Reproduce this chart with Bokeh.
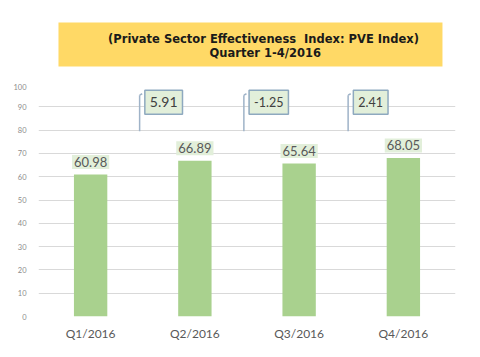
from bokeh.plotting import figure
from bokeh.layouts import column
from bokeh.models import FactorRange, Range1d, ColumnDataSource, FixedTicker
from bokeh.transform import dodge
from bokeh.core.properties import value
from bokeh.embed import file_html
from bokeh.resources import INLINE

categories = ["Q1/2016", "Q2/2016", "Q3/2016", "Q4/2016"]
pve_index = [60.98, 66.89, 65.64, 68.05]
change_quarters = ["Q2/2016", "Q3/2016", "Q4/2016"]
change_values = [5.91, -1.25, 2.41]
y_ticks = [0, 10, 20, 30, 40, 50, 60, 70, 80, 90, 100]
title_lines = ["(Private Sector Effectiveness\u00a0 Index: PVE Index)",
               "Quarter 1-4/2016"]

bar_src = ColumnDataSource(dict(
    cat=categories, val=pve_index,
    label=["%.2f" % v for v in pve_index]))
chg_src = ColumnDataSource(dict(
    cat=change_quarters, val=change_values,
    label=["%.2f" % v for v in change_values],
    fsize=["14px", "12.5px", "12.5px"]))

# ---- title banner (separate strip, pixel coordinates) ----
hdr = figure(width=480, height=83, x_range=Range1d(0, 480),
             y_range=Range1d(83, 0), output_backend="svg",
             toolbar_location=None, min_border=0)
hdr.axis.visible = False
hdr.grid.grid_line_color = None
hdr.outline_line_color = None
hdr.quad(left=23, right=465, top=22, bottom=66,
         fill_color="#ffd966", line_color=None)
hdr.text(x=[259, 261], y=[38, 52], text=title_lines,
         text_align="center", text_baseline="middle",
         text_font=value("DejaVu Sans"), text_font_style="bold",
         text_font_size="11.5px", text_color="#1a1a1a")

# ---- main chart ----
p = figure(width=480, height=274,
           x_range=FactorRange(*categories), y_range=Range1d(0, 100),
           output_backend="svg", toolbar_location=None,
           min_border_left=38, min_border_right=25,
           min_border_top=0, min_border_bottom=41)
p.outline_line_color = None

p.yaxis.ticker = FixedTicker(ticks=y_ticks)
p.yaxis.axis_line_color = None
p.yaxis.major_tick_line_color = None
p.yaxis.minor_tick_line_color = None
p.yaxis.major_label_text_font_size = "7.5px"
p.yaxis.major_label_text_color = "#8c8c8c"
p.yaxis.major_label_text_font = "Lato"
p.yaxis.major_label_standoff = 6

p.xaxis.axis_line_color = None
p.xaxis.major_tick_line_color = None
p.xaxis.minor_tick_line_color = None
p.xaxis.major_label_text_font_size = "12px"
p.xaxis.major_label_text_color = "#595959"
p.xaxis.major_label_text_font = "Lato"
p.xaxis.major_label_standoff = 3

p.xgrid.grid_line_color = None
p.ygrid.grid_line_color = "#d9d9d9"
p.ygrid.grid_line_width = 1

# bars
p.vbar(x="cat", top="val", width=0.32, source=bar_src,
       fill_color="#a9d18e", line_color=None)

# value labels
p.text(x="cat", y="val", text="label", source=bar_src, y_offset=-12.5,
       text_align="center", text_baseline="middle",
       text_font=value("Lato"), text_font_size="13px",
       text_color="#595959", background_fill_color="#e2efda",
       padding=(2, 2))

# change brackets
p.segment(x0=dodge("cat", -0.53, range=p.x_range), y0=79.5,
          x1=dodge("cat", -0.53, range=p.x_range), y1=95,
          source=chg_src, line_color="#9fb3c8", line_width=1.5)
p.segment(x0=dodge("cat", -0.53, range=p.x_range), y0=95,
          x1=dodge("cat", -0.505, range=p.x_range), y1=95.6,
          source=chg_src, line_color="#9fb3c8", line_width=1.5)

# change boxes
p.text(x=dodge("cat", -0.48, range=p.x_range), y=92, text="label",
       source=chg_src, text_align="left", text_baseline="middle",
       text_font=value("Lato"), text_font_size="fsize",
       text_color="#404040",
       background_fill_color="#e2efda", border_line_color="#8ea9bf",
       border_line_width=1.5, padding=(5, 7))

open("out.html", "w").write(file_html(column(hdr, p, spacing=0), INLINE))
